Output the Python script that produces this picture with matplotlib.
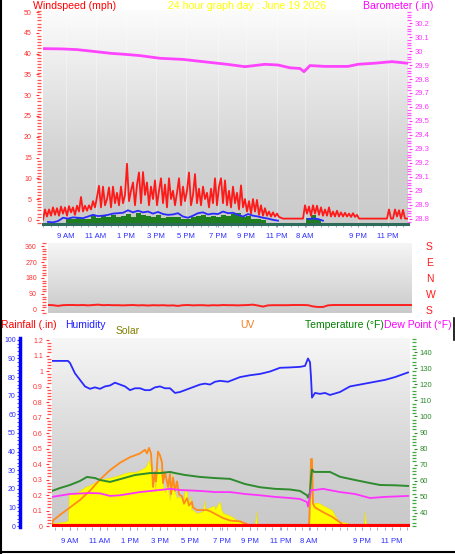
import numpy as np
import matplotlib
matplotlib.use("Agg")
import matplotlib.pyplot as plt
from matplotlib.colors import LinearSegmentedColormap
from matplotlib.ticker import MultipleLocator, FixedLocator, FuncFormatter
from matplotlib.lines import Line2D

plt.rcParams['font.family'] = ['Liberation Sans', 'DejaVu Sans']

# ---------------- data (x = sample slot along the 24h axis) ----------------
tick_slots = [23, 53, 83, 113, 143, 175, 203, 234, 262, 315, 345]
tick_labels = ['9 AM', '11 AM', '1 PM', '3 PM', '5 PM', '7 PM', '9 PM', '11 PM', '8 AM', '9 PM', '11 PM']

# wind gust (mph), one reading every 2 slots
gust = [0, 2.5, 0.8, 2.5, 1, 3, 1.2, 2.8, 1,
        3.2, 1.5, 3, 1, 3.3, 1.8, 3, 1.2, 3.4, 2,
        5.5, 2, 3.4, 2.2, 3.5, 2.5, 4.5, 3, 5.5, 8.2,
        3, 8, 3.5, 5, 7.8, 3, 8, 4, 6.5, 3.5,
        8, 4, 6, 13.5, 4.5, 7, 9, 3.5, 8.5, 11.4,
        4, 11.5, 6, 9, 3.5, 8, 5, 9.5, 3.5, 7,
        10, 4, 8.5, 3, 10, 5, 7, 3.5, 6.5, 10,
        3.5, 8, 4.5, 7, 11.4, 3.5, 6, 11, 4, 7.5,
        3.5, 8, 5, 6.5, 3, 7.5, 4, 10, 3.5, 8,
        10, 4, 9.5, 3.5, 7, 3, 8, 4, 6.5, 2.5,
        8.3, 3, 5, 2, 4.5, 1.5, 5, 2, 4.8, 1.2,
        3.5, 1, 2.8, 1, 2, 0.8, 1.8, 0.8, 1.5, 0.7,
        0.5, 0.3, 0.3, 0.3, 0.3, 0.3, 0.3, 0.3, 0.3, 0.3,
        0.3, 0.3, 3.5, 1.5, 3.2, 1, 3.5, 1.5, 3.4, 1.2,
        3, 1, 2.5, 1, 3, 0.8, 2, 0.8, 2.2, 0.8,
        1.8, 0.8, 1.7, 0.8, 1.5, 0.7, 1.6, 0.7, 1.2, 0.3,
        0.3, 0.3, 0.3, 0.3, 0.3, 0.3, 0.3, 0.3, 0.3, 0.3,
        0.3, 0.3, 0.3, 0.3, 2.5, 0.3, 0.3, 2.5, 0.8, 2.3,
        0.3, 2.4, 0.3, 0.3]

# average wind and wind speed (mph), one reading every 5 slots
wind_avg = [None, -0.5, -0.6, -0.3, 0.5, 0.3, 0.6, 0.5, 0.4, 0.8,
            1.2, 0.9, 1.0, 1.2, 1.5, 1.6, 1.7, 2.3, 1.8, 2.2,
            1.8, 2.0, 1.5, 1.9, 1.4, 1.2, 1.3, 1.6, 0.8, 0.5,
            1.0, 1.6, 1.8, 1.3, 1.5, 1.4, 2.0, 1.6, 1.7, 1.2,
            0.8, 1.4, 1.0, 0.8, 0.5, 0.3, 0.0, -0.2,
            None, None, None, None, None, 0.2, 0.3, 0.2, -0.2,
            None, None, None, None, None, None, None, None, None,
            None, None, None, None, None, None, None, None]
wind_spd = [None, None, None, None, None, 0.5, 0.3, 0.8, 0.2, 0.3,
            1.2, 0.5, 1.0, 0.8, 1.2, 0.8, 1.0, 1.5, 0.8, 1.6,
            1.2, 1.0, 0.8, 1.2, 0.5, 0.8, 0.6, 0.8, 0.3, 0.2,
            0.6, 1.0, 1.2, 0.8, 1.0, 0.8, 1.2, 1.0, 1.5, 1.6,
            0.6, 1.0, 0.3, 0.2, 0.0, None, None, None, None, None,
            None, None, None, 0.5, 1.2, 0.3, None, None, None, None,
            None, None, None, None, None, None, None, None, None, None,
            None, None, None, None]

baro_slots = [0, 19, 34, 47, 67, 84, 97, 117, 140, 160, 184, 202, 222, 235,
              247, 257, 261, 267, 282, 305, 315, 332, 349, 364]
baro = [30.017, 30.015, 30.01, 30.0, 29.984, 29.975, 29.967, 29.948, 29.94, 29.924,
        29.905, 29.888, 29.905, 29.9, 29.88, 29.875, 29.852, 29.896, 29.89, 29.89,
        29.905, 29.913, 29.924, 29.913]

# wind direction (degrees), one reading every 5 slots
wind_dir = [28, 27, 23, 27, 28, 28, 27, 28, 26, 28,
            30, 27, 28, 27, 27, 26, 27, 28, 26, 27,
            25, 27, 26, 27, 25, 26, 23, 27, 28, 26,
            27, 27, 25, 27, 26, 28, 27, 27, 26, 27,
            28, 30, 25, 19, 26, 27, 27, 27, 27, 28,
            28, 28, 27, 20, 17, 17, 26, 28, 28, 28,
            28, 28, 28, 28, 28, 28, 28, 28, 28, 28,
            28, 28, 28, 28]

hum_slots = [5, 21, 23, 28, 33, 38, 43, 48, 53, 58, 63, 68, 73, 78, 83, 88, 93, 98,
             103, 108, 113, 118, 123, 128, 133, 138, 143, 148, 153, 158, 163, 168,
             173, 181, 193, 203, 213, 223, 233, 243, 253, 258, 261, 263, 264, 265,
             268, 273, 278, 283, 293, 303, 313, 323, 338, 348, 361]
humidity = [88.7, 88.7, 87.6, 82, 78.5, 75, 73.7, 74.5, 73.7, 75, 75.5, 77, 76, 75,
            73, 74, 74, 73, 73, 74.5, 75, 74, 74, 71.5, 72, 73, 74, 75, 76, 76.5,
            76, 77.5, 78, 77.5, 80, 81, 81.7, 83, 85, 85.2, 85.5, 86, 90, 88, 80, 69,
            71.5, 71, 71.5, 70.4, 72, 75, 76, 77, 78.5, 80, 82.5]

temp_slots = [5, 13, 23, 33, 40, 48, 53, 63, 73, 88, 103, 113, 123, 128, 138, 153,
              168, 183, 198, 213, 228, 243, 253, 260, 261, 263, 264, 265, 267, 283,
              293, 308, 323, 333, 348, 361]
temperature = [53.7, 55.5, 57.4, 59.9, 62.4, 61.7, 60.5, 59.3, 61, 63.6, 64.8, 64.8,
               65.5, 64.8, 63.6, 62.4, 61.7, 61.2, 58, 56, 55, 54.6, 53.7, 51, 49.5,
               53, 62, 67, 65.5, 65.5, 62.5, 60.5, 58.6, 57.4, 57.2, 56.8]

dew_slots = [5, 23, 43, 53, 63, 73, 93, 113, 123, 133, 153, 168, 183, 198, 213, 228,
             243, 253, 260, 261, 264, 268, 276, 293, 308, 323, 338, 361]
dewpoint = [50, 51.8, 52.4, 52.2, 50.6, 51, 53, 54.3, 55, 54.3, 53.7, 53, 53, 51.8,
            51, 50, 49.3, 48.7, 46.8, 44, 54.3, 54.3, 55, 53, 51.8, 49.3, 50, 50.6]

uv_slots = [5, 6, 13, 23, 33, 43, 53, 63, 73, 83, 93, 98, 100, 102, 104, 105, 106,
            108, 109, 111, 113, 115, 116, 118, 121, 123, 124, 126, 128, 130, 132,
            135, 137, 140, 142, 145, 146, 150, 160, 163, 170, 176, 183, 193, 200,
            203, 262, 263, 264, 265, 266, 268, 276, 285, 293, 297, 361]
uv = [0, 0.3, 0.6, 1.0, 1.4, 1.9, 2.5, 3.0, 3.4, 3.7, 3.9, 4.1, 3.9, 4.2, 3.9, 3.1,
      2.1, 2.9, 2.4, 4.0, 3.8, 3.4, 2.3, 2.9, 2.1, 2.8, 1.7, 2.6, 1.9, 2.4, 1.7, 1.6,
      1.2, 1.5, 1.1, 1.3, 1.0, 0.86, 0.86, 0.8, 0.6, 0.43, 0.3, 0.25, 0.1, 0, 0, 1.5,
      3.6, 3.6, 1.2, 1.0, 0.75, 0.5, 0.2, 0, 0]

solar_slots = [5, 13, 19, 21, 22, 28, 33, 38, 43, 53, 63, 73, 78, 83, 88, 93, 96, 98,
               100, 101, 102, 104, 105, 106, 107, 108, 109, 110, 112, 113, 115, 116,
               118, 120, 122, 123, 125, 126, 128, 130, 131, 135, 136, 138, 140, 141,
               143, 144, 146, 150, 153, 156, 157, 158, 161, 165, 167, 168, 171, 173,
               174, 176, 181, 185, 189, 193, 198, 203, 205, 208, 209, 210, 262, 263,
               264, 265, 268, 272, 276, 280, 285, 288, 292, 296, 300, 303, 305, 317,
               318, 319, 361]
solar = [15, 20, 25, 30, 180, 175, 190, 210, 220, 250, 260, 275, 285, 290, 290, 300,
         310, 315, 330, 355, 340, 320, 300, 210, 280, 190, 250, 290, 310, 300, 250, 220,
         180, 230, 160, 140, 280, 210, 180, 150, 160, 150, 120, 200, 180, 120, 160, 90,
         86, 70, 75, 80, 140, 95, 95, 105, 110, 90, 120, 130, 90, 70, 60, 50, 35, 30,
         15, 5, 0, 0, 80, 0, 0, 60, 200, 120, 125, 124, 110, 100, 85, 55, 25, 20, 18, 5,
         0, 0, 80, 0, 0]

rain_slots = [5, 363]
rain = [0, 0]

# ---------------- layout ----------------
W, H = 455, 554
fig = plt.figure(figsize=(W / 100, H / 100), dpi=100)
fig.patch.set_facecolor('white')


def box(l, t, r, b):
    return [l / W, 1 - b / H, (r - l) / W, (b - t) / H]


def shade(ax, stops):
    cm = LinearSegmentedColormap.from_list('bg', stops)
    ax.imshow(np.linspace(0, 1, 128)[:, None], cmap=cm, aspect='auto',
              extent=(0, 1, 0, 1), transform=ax.transAxes, zorder=0,
              interpolation='bilinear')


def only(ax, keep):
    for s in ['left', 'right', 'top', 'bottom']:
        ax.spines[s].set_visible(s in keep)


def ruler(ax, side, color, off, step):
    # dotted axis line drawn as a column of short dashes
    sp = ax.spines[side]
    sp.set_position(('outward', off))
    sp.set_linewidth(0)
    ax.yaxis.set_minor_locator(MultipleLocator(step))
    ax.tick_params(axis='y', which='minor', color=color, length=2.4, width=0.9,
                   direction='inout')


fmt = FuncFormatter(lambda v, p: '%g' % round(v, 2))
xblue = '#2a2aff'

# ---- top: wind + barometer ----
ax1 = fig.add_axes(box(43, 10, 408, 224))
shade(ax1, [(0, '#fcfcfc'), (0.45, '#e0e0e0'), (0.7, '#d2d2d2'), (1, '#cbcbcb')])
xs_g = np.arange(len(gust)) * 2
xs_w = np.arange(len(wind_avg)) * 5
spd = np.nan_to_num(np.array(wind_spd, dtype=float), nan=-1)
ax1.fill_between(xs_w, -1, spd, step='mid', color='#1f7f1f', lw=0, zorder=2)
ax1.plot(xs_g, gust, color='#ff1a1a', lw=1.3, zorder=3)
ax1.plot(xs_w, np.array(wind_avg, dtype=float), color='#2a2aff', lw=1.3, zorder=4)
ax1.set_xlim(0, 365)
ax1.set_ylim(-1, 50.5)
only(ax1, ['left', 'bottom'])
ax1.yaxis.set_major_locator(MultipleLocator(5))
ax1.tick_params(axis='y', colors='#ff3030', labelsize=5, length=2.5, pad=2.5)
ruler(ax1, 'left', '#ff5555', 3, 0.75)
ax1.spines['bottom'].set_color('#2f6b5b')
ax1.spines['bottom'].set_linewidth(2.2)
ax1.xaxis.set_major_locator(FixedLocator(tick_slots))
ax1.set_xticklabels(tick_labels)
ax1.xaxis.set_minor_locator(MultipleLocator(7.5))
ax1.tick_params(axis='x', which='both', colors='#9a9ad8', labelcolor=xblue,
                labelsize=5.5, length=2, pad=4.5)
ax1.grid(axis='x', color='white', alpha=0.35, lw=0.8)

ax1b = ax1.twinx()
ax1b.plot(baro_slots, baro, color='#ff44ff', lw=2, zorder=3)
ax1b.set_ylim(28.764, 30.293)
only(ax1b, ['right'])
ax1b.yaxis.set_major_locator(MultipleLocator(0.1))
ax1b.yaxis.set_major_formatter(fmt)
ax1b.tick_params(axis='y', colors='#ff33ff', labelsize=5.5, length=2.5, pad=1.5)
ruler(ax1b, 'right', '#ff55ff', 1, 0.02)

# ---- middle: wind direction ----
ax2 = fig.add_axes(box(48, 243, 412, 313))
shade(ax2, [(0, '#f6f6f6'), (1, '#cacaca')])
ax2.plot(np.arange(len(wind_dir)) * 5 + 5, wind_dir, color='#ff2020', lw=1.4, zorder=3)
ax2.set_xlim(5, 369)
ax2.set_ylim(-17, 377)
only(ax2, ['left'])
ax2.set_yticks([0, 90, 180, 270, 360])
ax2.set_xticks([])
ax2.tick_params(axis='y', colors='#ff3030', labelsize=5, length=2.5, pad=2.5)
ruler(ax2, 'left', '#ff5555', 3, 15)
ax2b = ax2.twinx()
only(ax2b, [])
ax2b.set_ylim(-17, 377)
ax2b.set_yticks([0, 90, 180, 270, 360])
ax2b.set_yticklabels(['S', 'W', 'N', 'E', 'S'])
ax2b.tick_params(axis='y', colors='#ff1a1a', labelsize=7.5, length=0, pad=10)

# ---- bottom: rain, humidity, solar, uv, temperature, dew point ----
ax3 = fig.add_axes(box(52, 338, 410, 527))
sol = ax3.twinx()
uvx = ax3.twinx()
tmp = ax3.twinx()
hum = ax3.twinx()
ax3.set_zorder(5)
ax3.patch.set_visible(False)

shade(sol, [(0, '#f7f7f7'), (0.43, '#dedede'), (0.72, '#d0d0d0'), (1, '#c9c9c9')])
sol.fill_between(solar_slots, 0, solar, color='#ffff00', lw=0.4, edgecolor='#f0e000', zorder=2)
sol.set_ylim(-5, 1010)
only(sol, [])
sol.set_yticks([])

uvx.plot(uv_slots, uv, color='#ff8c1a', lw=1.3, zorder=3)
uvx.set_ylim(-0.05, 10.1)
only(uvx, [])
uvx.set_yticks([])

tmp.plot(temp_slots, temperature, color='#2e8b2e', lw=1.4, zorder=3)
tmp.plot(dew_slots, dewpoint, color='#ff33ff', lw=1.3, zorder=3)
tmp.set_ylim(31.3, 148.7)
only(tmp, ['right'])
tmp.set_yticks(np.arange(40, 141, 10))
tmp.tick_params(axis='y', colors='#2e8b2e', labelsize=5.5, length=2.5, pad=1.5)
ruler(tmp, 'right', '#44aa44', 3, 2)

hum.plot(hum_slots, humidity, color='#2a2aff', lw=1.3, zorder=3)
hum.set_ylim(-0.5, 101)
only(hum, ['left'])
hum.yaxis.tick_left()
hum.spines['left'].set_position(('outward', 23))
hum.spines['left'].set_color('#0000ff')
hum.spines['left'].set_linewidth(2.5)
hum.set_yticks(np.arange(0, 101, 10))
hum.yaxis.set_minor_locator(MultipleLocator(2))
hum.tick_params(axis='y', which='both', colors='#2a2aff', labelsize=5, length=2, pad=1)

ax3.plot(rain_slots, rain, color='#ff0000', lw=3, zorder=4, solid_capstyle='butt')
ax3.set_xlim(5, 363)
ax3.set_ylim(-0.006, 1.213)
only(ax3, ['left'])
ax3.set_yticks(np.arange(0, 1.21, 0.1))
ax3.yaxis.set_major_formatter(fmt)
ax3.tick_params(axis='y', colors='#ff3030', labelsize=5, length=2.5, pad=2)
ruler(ax3, 'left', '#ff5555', 2, 0.02)
ax3.xaxis.set_major_locator(FixedLocator(tick_slots))
ax3.set_xticklabels(tick_labels)
ax3.xaxis.set_minor_locator(MultipleLocator(7.5))
ax3.tick_params(axis='x', which='both', colors='#9a9ad8', labelcolor=xblue,
                labelsize=5.5, length=2.5, pad=5.5)


# ---------------- titles ----------------
def label(x, y, s, color, size=7.6):
    fig.text(x / W, 1 - y / H, s, color=color, fontsize=size, ha='left', va='center')


label(33, 6, 'Windspeed (mph)', '#ff0000')
label(168, 6, '24 hour graph day : June 19 2026', '#ffff00')
label(363, 6, 'Barometer (.in)', '#ff00ff')
label(1, 325, 'Rainfall (.in)', '#ff0000', 7.5)
label(65, 325, 'Humidity', '#1a1aff', 7.5)
label(116, 331, 'Solar', '#808000', 7.5)
label(240, 325, 'UV', '#f08020', 7.5)
label(305, 325, 'Temperature (°F)', '#008000', 7.5)
label(384, 325, 'Dew Point (°F)', '#ff00ff', 7.5)

# frame
fig.add_artist(Line2D([0.8 / W, 0.8 / W], [0, 1], color='black', lw=1.5, transform=fig.transFigure))
fig.add_artist(Line2D([0, 1], [1 - 551.5 / H, 1 - 551.5 / H], color='black', lw=1.5, transform=fig.transFigure))
fig.add_artist(Line2D([453.5 / W, 453.5 / W], [1 - 340 / H, 1 - 318 / H], color='black', lw=1.2, transform=fig.transFigure))

fig.savefig('out.png', dpi=100)
